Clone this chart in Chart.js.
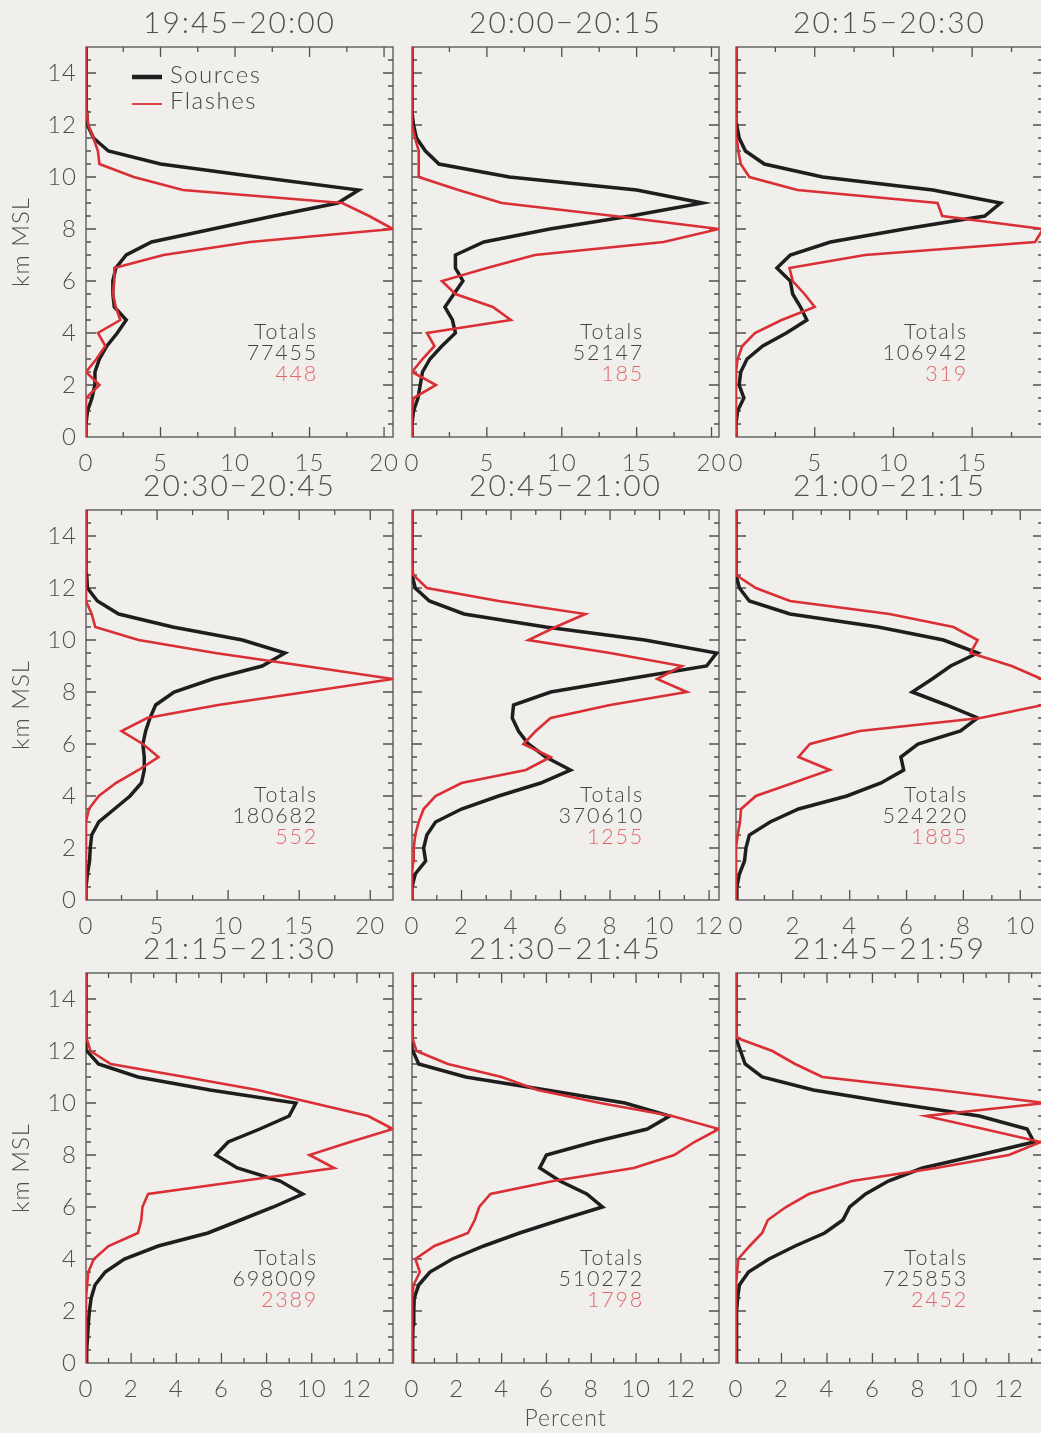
<!DOCTYPE html>
<html>
<head>
<meta charset="utf-8">
<title>Sources and flashes by altitude</title>
<script src="https://cdn.jsdelivr.net/npm/chart.js@4.4.1/dist/chart.umd.min.js"></script>
<style>
  html, body { margin: 0; padding: 0; overflow: hidden; }
  body { width: 1041px; height: 1433px; background: #f1efeb; position: relative; }
  #fig canvas { position: absolute; }
</style>
</head>
<body>
<div id="fig"></div>
<script>
// Altitude bins (km MSL), bottom to top
const altitudeKm = [0, 0.5, 1, 1.5, 2, 2.5, 3, 3.5, 4, 4.5, 5, 5.5, 6, 6.5, 7, 7.5,
  8, 8.5, 9, 9.5, 10, 10.5, 11, 11.5, 12, 12.5, 13, 13.5, 14, 14.5, 15];

const panelTitles = ["19:45\u221220:00", "20:00\u221220:15", "20:15\u221220:30",
  "20:30\u221220:45", "20:45\u221221:00", "21:00\u221221:15",
  "21:15\u221221:30", "21:30\u221221:45", "21:45\u221221:59"];
const sourceTotals = [77455, 52147, 106942, 180682, 370610, 524220, 698009, 510272, 725853];
const flashTotals = [448, 185, 319, 552, 1255, 1885, 2389, 1798, 2452];

// x axis (Percent) per panel
const percentMax = [20.6, 20.5, 19.5, 21.6, 12.4, 10.8, 13.6, 13.7, 13.5];
const percentTicks = [
  [0, 5, 10, 15, 20], [0, 5, 10, 15, 20], [0, 5, 10, 15],
  [0, 5, 10, 15, 20], [0, 2, 4, 6, 8, 10, 12], [0, 2, 4, 6, 8, 10],
  [0, 2, 4, 6, 8, 10, 12], [0, 2, 4, 6, 8, 10, 12], [0, 2, 4, 6, 8, 10, 12]];
const percentMinor = [2.5, 2.5, 2.5, 2.5, 1, 1, 1, 1, 1];
const kmTicks = [0, 2, 4, 6, 8, 10, 12, 14];

// Percent of sources per altitude bin
const sources1 = [0, 0, 0.1, 0.4, 0.6, 0.6, 0.9, 1.4, 2.1, 2.7, 1.9, 1.8, 1.8, 2.0, 2.7, 4.4,
  8.5, 12.6, 16.9, 18.3, 11.5, 5.0, 1.5, 0.5, 0.1, 0.05, 0.05, 0, 0, 0, 0];
const sources2 = [0, 0, 0.1, 0.4, 0.55, 0.7, 1.2, 2.0, 2.9, 2.7, 2.2, 2.8, 3.4, 2.9, 2.9, 4.8,
  9.2, 14.6, 19.4, 15.0, 6.5, 1.8, 0.9, 0.3, 0.1, 0, 0, 0, 0, 0, 0];
const sources3 = [0, 0, 0.1, 0.5, 0.2, 0.3, 0.7, 1.7, 3.2, 4.5, 4.1, 3.6, 3.45, 2.6, 3.45, 6.0,
  10.7, 15.8, 16.8, 12.5, 5.5, 1.8, 0.6, 0.2, 0.05, 0, 0, 0, 0, 0, 0];
const sources4 = [0, 0, 0.1, 0.25, 0.3, 0.4, 0.9, 2.0, 3.1, 3.9, 4.1, 4.1, 4.0, 4.2, 4.5, 4.9,
  6.2, 8.9, 12.4, 14.0, 11.0, 6.1, 2.3, 0.8, 0.1, 0.05, 0, 0, 0, 0, 0];
const sources5 = [0, 0, 0.13, 0.55, 0.47, 0.6, 0.95, 2.0, 3.5, 5.2, 6.4, 5.4, 4.7, 4.3, 4.05, 4.1,
  5.6, 8.7, 11.9, 12.3, 9.4, 5.4, 2.1, 0.7, 0.13, 0, 0, 0, 0, 0, 0];
const sources6 = [0, 0.03, 0.12, 0.3, 0.35, 0.47, 1.2, 2.2, 3.9, 5.1, 5.9, 5.8, 6.4, 7.9, 8.5, 7.4,
  6.2, 6.9, 7.55, 8.5, 7.3, 5.0, 1.9, 0.47, 0.12, 0, 0, 0, 0, 0, 0];
const sources7 = [0, 0.03, 0.07, 0.1, 0.15, 0.23, 0.4, 0.85, 1.7, 3.2, 5.4, 6.85, 8.3, 9.6, 8.6, 6.7,
  5.75, 6.3, 7.7, 9.0, 9.3, 5.5, 2.3, 0.55, 0.04, 0, 0, 0, 0, 0, 0];
const sources8 = [0, 0.02, 0.04, 0.05, 0.08, 0.1, 0.3, 0.8, 1.8, 3.2, 4.8, 6.6, 8.5, 7.8, 6.6, 5.7,
  6.0, 8.1, 10.5, 11.5, 9.5, 6.0, 2.4, 0.3, 0.04, 0, 0, 0, 0, 0, 0];
const sources9 = [0, 0.01, 0.02, 0.03, 0.04, 0.07, 0.15, 0.55, 1.45, 2.6, 3.9, 4.7, 5.0, 5.7, 6.7, 8.2,
  10.7, 13.1, 12.8, 10.7, 6.9, 3.4, 1.15, 0.4, 0.2, 0, 0, 0, 0, 0, 0];

// Percent of flashes per altitude bin
const flashes1 = [0, 0, 0, 0, 0.9, 0, 0.7, 1.3, 0.8, 2.3, 2.0, 1.8, 1.9, 1.9, 5.2, 11.0,
  20.6, 19.0, 17.2, 6.5, 3.2, 0.9, 0.8, 0.5, 0.15, 0.05, 0.05, 0, 0, 0, 0];
const flashes2 = [0, 0, 0, 0.1, 1.6, 0, 0.7, 1.5, 1.0, 6.6, 5.4, 2.9, 2.0, 5.0, 8.2, 16.8,
  20.5, 13.5, 6.0, 3.1, 0.45, 0.45, 0.45, 0.2, 0, 0, 0, 0, 0, 0, 0];
const flashes3 = [0, 0, 0, 0, 0, 0, 0.1, 0.4, 1.2, 2.9, 5.0, 4.35, 3.6, 3.4, 8.2, 19.0,
  19.5, 13.1, 12.8, 3.9, 0.85, 0.3, 0.15, 0.05, 0, 0, 0, 0, 0, 0, 0];
const flashes4 = [0, 0, 0, 0, 0, 0, 0, 0.2, 0.9, 2.1, 3.7, 5.1, 4.0, 2.5, 4.3, 9.3,
  15.5, 21.6, 15.4, 9.1, 3.7, 0.65, 0.4, 0, 0, 0, 0, 0, 0, 0, 0];
const flashes5 = [0, 0, 0, 0.05, 0.07, 0.13, 0.27, 0.47, 0.95, 2.0, 4.6, 5.6, 4.5, 5.0, 5.6, 8.0,
  11.1, 9.9, 10.9, 8.0, 4.7, 5.8, 7.0, 3.5, 0.6, 0.05, 0, 0, 0, 0, 0];
const flashes6 = [0, 0, 0, 0, 0, 0.06, 0.14, 0.18, 0.7, 2.0, 3.3, 2.2, 2.6, 4.35, 8.6, 10.8,
  11.6, 10.75, 9.7, 8.25, 8.5, 7.65, 5.4, 1.9, 0.7, 0, 0, 0, 0, 0, 0];
const flashes7 = [0, 0, 0, 0, 0, 0, 0.05, 0.1, 0.35, 1.0, 2.3, 2.45, 2.5, 2.75, 6.9, 11.0,
  9.9, 11.7, 13.6, 12.5, 10.05, 7.6, 4.4, 1.1, 0.2, 0.02, 0, 0, 0, 0, 0];
const flashes8 = [0, 0, 0, 0, 0, 0.02, 0.07, 0.35, 0.15, 1.0, 2.5, 2.8, 3.0, 3.5, 6.3, 9.9,
  11.7, 12.6, 13.7, 11.6, 8.4, 5.6, 4.0, 1.6, 0.2, 0.02, 0, 0, 0, 0, 0];
const flashes9 = [0, 0, 0, 0, 0, 0, 0, 0.05, 0.1, 0.6, 1.15, 1.4, 2.2, 3.2, 5.1, 8.8,
  12.0, 13.4, 10.9, 8.35, 13.6, 8.9, 3.8, 2.6, 1.6, 0.05, 0, 0, 0, 0, 0];

const sources = [sources1, sources2, sources3, sources4, sources5, sources6, sources7, sources8, sources9];
const flashes = [flashes1, flashes2, flashes3, flashes4, flashes5, flashes6, flashes7, flashes8, flashes9];

// Layout: plot boxes in page pixels
const COLS = [86, 412, 736];
const ROWS = [47, 510, 973];
const BOX_W = 307, BOX_H = 390;
const PAD_L = 80, PAD_T = 48, PAD_R = 26;
const FONT = 'Lato, "DejaVu Sans", sans-serif';
const TEXT = '#4f4f4f';
const AXIS = '#505050';
const BLACK = '#1e1e1e';
const RED = '#d92f35';

const frame = {
  id: 'frame',
  beforeDraw(chart) {
    // the reference lettering is wide; space it out a little
    chart.ctx.letterSpacing = '1px';
  },
  beforeDatasetsDraw(chart, args, o) {
    const {ctx, chartArea: a, scales: {x, y}} = chart;
    ctx.save();
    ctx.strokeStyle = AXIS;
    ctx.lineWidth = 1.3;
    ctx.strokeRect(a.left, a.top, a.right - a.left, a.bottom - a.top);
    // inward ticks on all four sides
    ctx.beginPath();
    for (let k = 1; k * o.minor < x.max; k++) {
      const v = k * o.minor, px = x.getPixelForValue(v);
      const len = o.ticks.includes(v) ? 10 : 5;
      ctx.moveTo(px, a.bottom); ctx.lineTo(px, a.bottom - len);
      ctx.moveTo(px, a.top); ctx.lineTo(px, a.top + len);
    }
    for (let k = 1; k * 0.5 < y.max; k++) {
      const v = k * 0.5, py = y.getPixelForValue(v);
      const len = kmTicks.includes(v) ? 10 : 5;
      ctx.moveTo(a.left, py); ctx.lineTo(a.left + len, py);
      ctx.moveTo(a.right, py); ctx.lineTo(a.right - len, py);
    }
    ctx.stroke();
    // panel title
    ctx.fillStyle = TEXT;
    ctx.font = `300 30px ${FONT}`;
    ctx.letterSpacing = '2px';
    ctx.textAlign = 'center';
    ctx.textBaseline = 'middle';
    ctx.fillText(o.title, (a.left + a.right) / 2, a.top - 24);
    ctx.restore();
  },
  afterDatasetsDraw(chart, args, o) {
    const {ctx, chartArea: a} = chart;
    ctx.save();
    ctx.font = `300 21.5px ${FONT}`;
    ctx.letterSpacing = '1.8px';
    ctx.textAlign = 'right';
    ctx.textBaseline = 'middle';
    const tx = a.left + 232;
    ctx.fillStyle = '#454545';
    ctx.fillText('Totals', tx, a.top + 285);
    ctx.fillText(String(o.src), tx, a.top + 306);
    ctx.fillStyle = '#e2676b';
    ctx.fillText(String(o.fl), tx, a.top + 327);
    if (o.legend) {
      ctx.lineCap = 'butt';
      ctx.strokeStyle = BLACK;
      ctx.lineWidth = 4.5;
      ctx.beginPath(); ctx.moveTo(a.left + 46, a.top + 30); ctx.lineTo(a.left + 76, a.top + 30); ctx.stroke();
      ctx.strokeStyle = RED;
      ctx.lineWidth = 1.8;
      ctx.beginPath(); ctx.moveTo(a.left + 46, a.top + 57); ctx.lineTo(a.left + 76, a.top + 57); ctx.stroke();
      ctx.font = `300 24px ${FONT}`;
      ctx.letterSpacing = '1.5px';
      ctx.textAlign = 'left';
      ctx.fillStyle = '#444';
      ctx.fillText('Sources', a.left + 84, a.top + 28);
      ctx.fillText('Flashes', a.left + 84, a.top + 54);
    }
    ctx.restore();
  }
};

function profile(values) {
  return values.map((v, k) => ({x: v, y: altitudeKm[k]}));
}

const fig = document.getElementById('fig');
panelTitles.forEach((title, i) => {
  const c = i % 3, r = Math.floor(i / 3);
  const padB = i === 7 ? 70 : 46;
  const cv = document.createElement('canvas');
  cv.width = PAD_L + BOX_W + PAD_R;
  cv.height = PAD_T + BOX_H + padB;
  cv.style.left = (COLS[c] - PAD_L) + 'px';
  cv.style.top = (ROWS[r] - PAD_T) + 'px';
  fig.appendChild(cv);

  const tickFont = {family: FONT, size: 24, weight: '300'};
  new Chart(cv, {
    type: 'scatter',
    data: {
      datasets: [
        {label: 'Flashes', data: profile(flashes[i]), showLine: true, borderColor: RED,
         borderWidth: 2.6, pointRadius: 0, order: 0},
        {label: 'Sources', data: profile(sources[i]), showLine: true, borderColor: BLACK,
         borderWidth: 3.5, pointRadius: 0, order: 1}
      ]
    },
    options: {
      responsive: false,
      animation: false,
      events: [],
      layout: {padding: {top: PAD_T, right: PAD_R, left: 0, bottom: 0}},
      plugins: {
        legend: {display: false},
        tooltip: {enabled: false},
        frame: {title, src: sourceTotals[i], fl: flashTotals[i], legend: i === 0,
                ticks: percentTicks[i], minor: percentMinor[i]}
      },
      scales: {
        x: {
          type: 'linear', min: 0, max: percentMax[i],
          afterFit: s => { s.height = padB; },
          afterBuildTicks: s => { s.ticks = percentTicks[i].map(v => ({value: v})); },
          grid: {display: false, drawTicks: false},
          border: {display: false},
          ticks: {font: tickFont, color: TEXT, padding: 12, maxRotation: 0, autoSkip: false},
          title: {display: i === 7, text: 'Percent', color: TEXT,
                  font: {family: FONT, size: 23, weight: '300'}, padding: {top: 0, bottom: 1}}
        },
        y: {
          type: 'linear', min: 0, max: 15,
          afterFit: s => { s.width = PAD_L; },
          afterBuildTicks: s => { s.ticks = kmTicks.map(v => ({value: v})); },
          grid: {display: false, drawTicks: false},
          border: {display: false},
          ticks: {display: c === 0, font: tickFont, color: TEXT, padding: 9, autoSkip: false},
          title: {display: c === 0, text: 'km MSL', color: TEXT,
                  font: {family: FONT, size: 24, weight: '300'}, padding: {top: 1, bottom: 0}}
        }
      }
    },
    plugins: [frame]
  });
});
</script>
</body>
</html>
